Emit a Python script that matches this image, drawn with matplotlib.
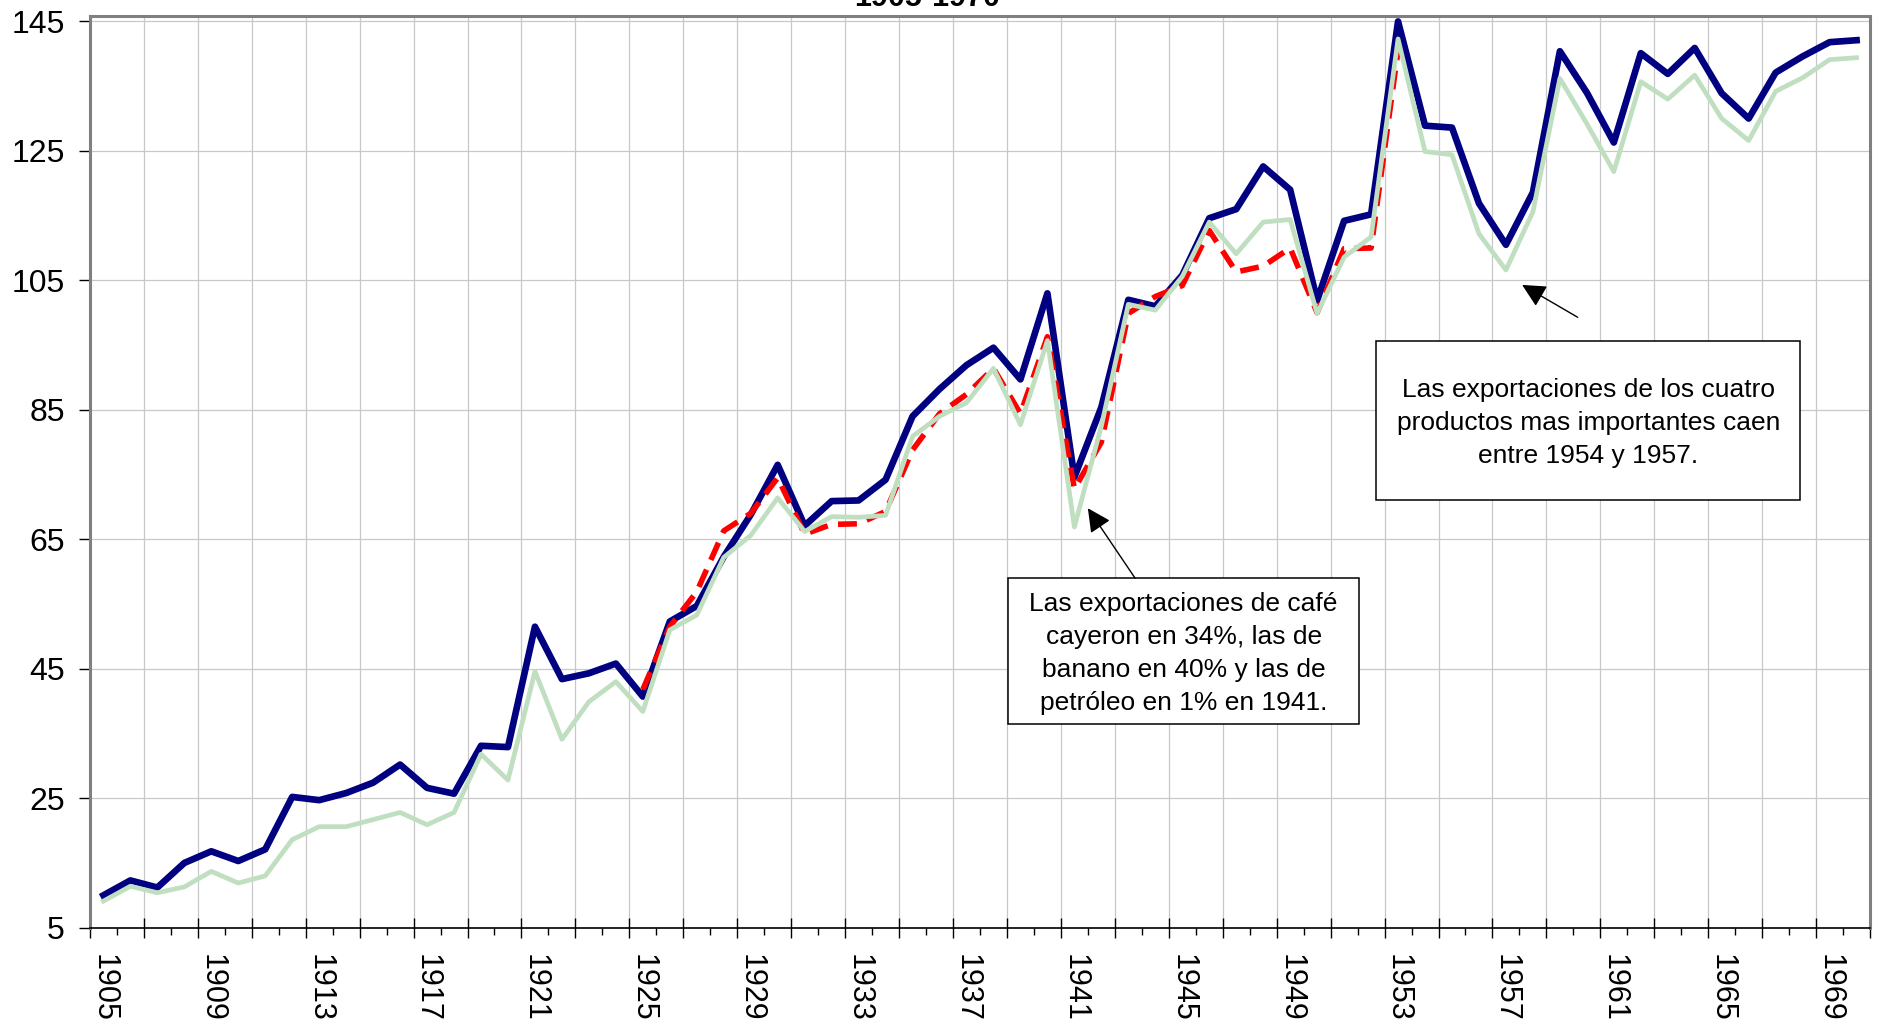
import numpy as np
import matplotlib
matplotlib.use("Agg")
from matplotlib import pyplot as plt
from matplotlib.patches import Rectangle

plt.rcParams['font.family'] = ['Liberation Sans', 'DejaVu Sans']

# ---- data ----
years = list(range(1905, 1971))

total = [10.0, 12.3, 11.2, 15.0, 16.8, 15.3, 17.1, 25.2, 24.7, 25.8,
         27.4, 30.2, 26.6, 25.7, 33.1, 32.9, 51.5, 43.4, 44.3, 45.8,
         40.7, 52.3, 54.7, 62.3, 68.8, 76.5, 67.1, 70.9, 71.0, 74.2,
         84.0, 88.2, 91.9, 94.6, 89.7, 103.0, 74.6, 85.4, 102.0, 101.0,
         105.8, 114.6, 116.0, 122.6, 119.0, 101.9, 114.2, 115.2, 145.0, 128.9,
         128.6, 116.9, 110.5, 118.6, 140.4, 134.0, 126.3, 140.1, 136.9, 140.9,
         133.9, 130.0, 137.1, 139.6, 141.8, 142.1]

cuatro = [9.1, 11.4, 10.4, 11.3, 13.7, 11.9, 13.0, 18.6, 20.6, 20.6,
          21.7, 22.8, 20.9, 22.8, 31.8, 27.8, 44.6, 34.1, 39.9, 43.0,
          38.4, 51.0, 53.3, 62.2, 65.6, 71.4, 66.2, 68.5, 68.4, 68.7,
          80.9, 84.0, 86.1, 91.4, 82.7, 95.7, 66.9, 82.5, 101.3, 100.4,
          105.6, 114.0, 109.1, 114.0, 114.4, 99.9, 108.6, 111.7, 142.3, 124.9,
          124.4, 112.2, 106.6, 115.6, 136.2, 129.2, 121.8, 135.7, 133.0, 136.7,
          130.0, 126.6, 134.2, 136.3, 139.1, 139.4]

red_years = list(range(1925, 1954))
red_vals = [41.8, 51.5, 56.9, 66.3, 69.0, 74.5, 65.8, 67.3, 67.4, 69.3,
            78.8, 84.4, 87.4, 91.4, 84.4, 96.3, 72.8, 80.0, 99.9, 102.5,
            104.2, 112.7, 106.3, 107.2, 110.0, 100.0, 109.9, 110.0, 140.5]

yticks = [5, 25, 45, 65, 85, 105, 125, 145]
label_years = list(range(1905, 1971, 4))

note1 = ("Las exportaciones de café\ncayeron en 34%, las de\n"
         "banano en 40% y las de\npetróleo en 1% en 1941.")
note2 = ("Las exportaciones de los cuatro\nproductos mas importantes caen\n"
         "entre 1954 y 1957.")

fig = plt.figure(figsize=(18.77, 10.21), dpi=100)
ax = fig.add_axes([0.0479, 0.0914, 0.9484, 0.8933])

ax.plot(years, total, color='#000080', lw=4.8, zorder=3, clip_on=False)
ax.plot(red_years, red_vals, color='#FF0000', lw=4.0, dashes=(3.4, 1.9),
        zorder=4)
ax.plot(years, cuatro, color='#C0DFC0', lw=3.4, zorder=5)

ax.set_xlim(1904.5, 1970.5)
ax.set_ylim(5, 145.9)

# axes / grid like the old Excel chart
bounds2 = np.arange(1904.5, 1971, 2)
bounds1 = np.arange(1904.5, 1971, 1)
ax.set_xticks(bounds2)
ax.set_xticks(bounds1, minor=True)
ax.tick_params(axis='x', which='major', direction='inout', length=14,
               width=1, labelbottom=False)
ax.tick_params(axis='x', which='minor', direction='out', length=5, width=1)
ax.set_yticks(yticks)
ax.tick_params(axis='y', direction='out', length=8, width=1, pad=10,
               labelsize=23)
ax.grid(True, which='major', color='#C8C8C8', lw=0.9)
ax.set_axisbelow(True)

sec = ax.secondary_xaxis('bottom')
sec.set_xticks(label_years)
sec.set_xticklabels([str(y) for y in label_years], rotation=270)
sec.tick_params(length=0, pad=19, labelsize=22)
sec.spines['bottom'].set_visible(False)

for s in ['top', 'right', 'left']:
    ax.spines[s].set_color('#808080')
    ax.spines[s].set_linewidth(2.2)
ax.spines['bottom'].set_color('black')
ax.spines['bottom'].set_linewidth(1.2)

# annotation boxes
ax.add_patch(Rectangle((1938.54, 36.5), 13.0, 22.5, facecolor='white',
                       edgecolor='black', lw=1.1, zorder=6))
ax.text(1945.05, 47.3, note1, ha='center', va='center', fontsize=19,
        linespacing=1.47, zorder=7)
ax.annotate('', xy=(1941.5, 69.8), xytext=(1943.25, 59.0),
            arrowprops=dict(arrowstyle='-|>', color='black', lw=1,
                            mutation_scale=36, shrinkA=0, shrinkB=0),
            zorder=7)

ax.add_patch(Rectangle((1952.2, 71.1), 15.7, 24.5, facecolor='white',
                       edgecolor='black', lw=1.1, zorder=6))
ax.text(1960.05, 82.9, note2, ha='center', va='center', fontsize=19,
        linespacing=1.47, zorder=7)
ax.annotate('', xy=(1957.6, 104.3), xytext=(1959.66, 99.3),
            arrowprops=dict(arrowstyle='-|>', color='black', lw=1,
                            mutation_scale=36, shrinkA=0, shrinkB=0),
            zorder=7)

# title sits partly above the figure edge, as in the reference
fig.text(0.494, 1 - 6 / 1021, '1905-1970', ha='center', va='baseline',
         fontsize=22, fontweight='bold')

plt.savefig('out.png', dpi=100)
